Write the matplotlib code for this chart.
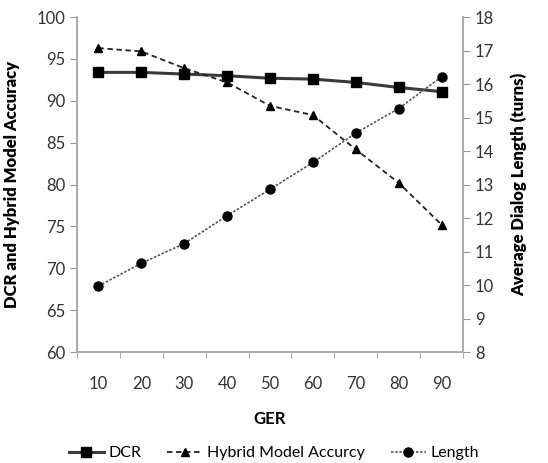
import matplotlib.pyplot as plt
import numpy as np

plt.rcParams['font.family'] = ['Lato', 'DejaVu Sans']

ger = [10, 20, 30, 40, 50, 60, 70, 80, 90]
dcr = [93.4, 93.4, 93.2, 93.0, 92.7, 92.6, 92.2, 91.6, 91.1]
hybrid = [96.3, 95.9, 93.9, 92.2, 89.4, 88.3, 84.2, 80.2, 75.2]
length = [9.97, 10.65, 11.24, 12.07, 12.86, 13.66, 14.54, 15.27, 16.22]

fig = plt.figure(figsize=(5.48, 4.63), dpi=100)
ax = fig.add_axes([0.1405, 0.2397, 0.7045, 0.7233])
ax2 = ax.twinx()

x = np.arange(len(ger))
l1, = ax.plot(x, dcr, color='#3a3a3a', lw=2.2, marker='s', ms=7, mfc='black', mec='black',
              label='DCR')
l2, = ax.plot(x, hybrid, color='#222222', lw=1.3, ls=(0, (3, 2)), marker='^', ms=5.5,
              mfc='black', mec='black', label='Hybrid Model Accurcy')
l3, = ax2.plot(x, length, color='#555555', lw=1.2, ls=(0, (1.5, 1)), marker='o', ms=6.5,
               mfc='black', mec='black', label='Length')

ax.set_xlim(-0.5, len(ger) - 0.5)
ax.set_ylim(60, 100)
ax.set_yticks(range(60, 101, 5))
ax2.set_ylim(8, 18)
ax2.set_yticks(range(8, 19))
ax.set_xticks(x)
ax.set_xticklabels([str(g) for g in ger])
ax.set_xticks(np.arange(-0.5, len(ger)), minor=True)
ax.tick_params(axis='x', which='major', length=0, pad=17)
ax.tick_params(axis='x', which='minor', length=4, color='#999999')

for a in (ax, ax2):
    for s in a.spines.values():
        s.set_color('#aaaaaa')
        s.set_linewidth(1.2)
    a.spines['top'].set_visible(False)
    a.tick_params(axis='y', color='#999999', length=5, labelsize=12, labelcolor='#333333')
ax.tick_params(axis='x', labelsize=12, labelcolor='#333333')

ax.set_xlabel('GER', fontsize=12, fontweight='bold', labelpad=14)
ax.set_ylabel('DCR and Hybrid Model Accuracy', fontsize=12, fontweight='heavy', labelpad=12)
ax2.set_ylabel('Average Dialog Length (turns)', fontsize=12, fontweight='heavy', labelpad=12)

fig.legend(handles=[l1, l2, l3], loc='lower center', ncol=3, frameon=False,
           fontsize=11.5, bbox_to_anchor=(0.5, -0.025), handlelength=2.2,
           handletextpad=0.3, columnspacing=1.6)

fig.savefig('out.png', dpi=100)
